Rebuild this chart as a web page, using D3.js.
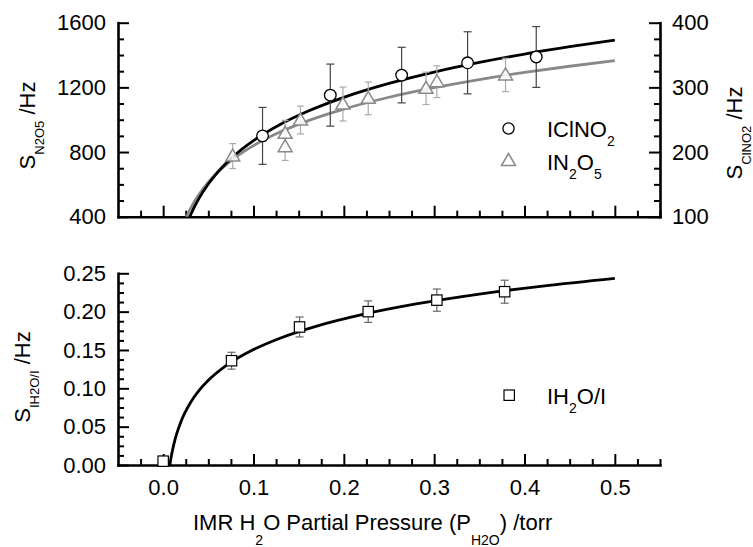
<!DOCTYPE html>
<html><head><meta charset="utf-8">
<script src="https://cdn.jsdelivr.net/npm/d3@7"></script>
<style>body{margin:0;background:#fff} text{font-family:"Liberation Sans",Arial,sans-serif;fill:#000}</style>
</head><body><svg id="c" width="753" height="547"></svg>
<script>
// ---- data ----
// IClNO2 (right axis, S_ClNO2 /Hz)
const clno2X = [0.110, 0.185, 0.264, 0.337, 0.413];
const clno2Y = [225, 288, 319, 338, 347];
const clno2Err = [44, 48, 43, 48, 47];
// IN2O5 (left axis, S_N2O5 /Hz)
const n2o5X = [0.077, 0.135, 0.135, 0.152, 0.199, 0.227, 0.291, 0.303, 0.379];
const n2o5Y = [775, 916, 833, 998, 1097, 1132, 1194, 1235, 1277];
const n2o5Err = [77, 80, 85, 86, 105, 101, 100, 98, 103];
// IH2O/I (bottom panel)
const h2oX = [0.0, 0.0757, 0.151, 0.227, 0.303, 0.378];
const h2oY = [0.005, 0.136, 0.180, 0.200, 0.215, 0.226];
const h2oErr = [0.004, 0.011, 0.013, 0.014, 0.0145, 0.015];
// fitted curves
const fitClno2X = [0.0296, 0.030, 0.031, 0.032, 0.035, 0.04, 0.05, 0.06, 0.08, 0.1, 0.13, 0.16, 0.2, 0.25, 0.3, 0.35, 0.4, 0.45, 0.5];
const fitClno2Y = [100, 101.3, 104.5, 107.5, 116.2, 129.1, 150.6, 168.3, 196.0, 217.6, 243.0, 263.0, 284.6, 306.1, 323.7, 338.6, 351.5, 362.9, 373.1];
const fitN2o5X = [0.026, 0.0265, 0.028, 0.031, 0.035, 0.04, 0.05, 0.06, 0.08, 0.1, 0.13, 0.16, 0.2, 0.25, 0.3, 0.35, 0.4, 0.45, 0.5];
const fitN2o5Y = [400, 406.2, 424.2, 457.4, 497.0, 540.6, 613.4, 672.9, 766.8, 839.7, 925.3, 993.1, 1065.9, 1138.8, 1198.3, 1248.6, 1292.2, 1330.6, 1365.0];
const fitH2oX = [0.0074, 0.0077, 0.008, 0.009, 0.01, 0.012, 0.015, 0.02, 0.03, 0.04, 0.05, 0.07, 0.1, 0.13, 0.17, 0.22, 0.28, 0.35, 0.42, 0.5];
const fitH2oY = [0, 0.0023, 0.0045, 0.0113, 0.0174, 0.0279, 0.0408, 0.0575, 0.0809, 0.0975, 0.1104, 0.1299, 0.1505, 0.1657, 0.1812, 0.1961, 0.2100, 0.2229, 0.2334, 0.2435];
// ticks
const xMajor = [0.0, 0.1, 0.2, 0.3, 0.4, 0.5];
const xMinor = [-0.025, 0.025, 0.05, 0.075, 0.125, 0.15, 0.175, 0.225, 0.25, 0.275, 0.325, 0.35, 0.375, 0.425, 0.45, 0.475, 0.525, 0.55];
const yLMajor = [400, 800, 1200, 1600];
const yLMinor = [500, 600, 700, 900, 1000, 1100, 1300, 1400, 1500];
const yRMajor = [100, 200, 300, 400];
const yRMinor = [125, 150, 175, 225, 250, 275, 325, 350, 375];
const yBMajor = [0, 0.05, 0.10, 0.15, 0.20, 0.25];
const yBMinor = [0.0125, 0.025, 0.0375, 0.0625, 0.075, 0.0875, 0.1125, 0.125, 0.1375, 0.1625, 0.175, 0.1875, 0.2125, 0.225, 0.2375];

const svg = d3.select("#c");
const x = d3.scaleLinear([-0.05, 0.55], [118, 660]);
const yL = d3.scaleLinear([400, 1600], [216.7, 22.7]);
const yR = d3.scaleLinear([100, 400], [216.7, 22.7]);
const yB = d3.scaleLinear([0, 0.25], [465, 273.3]);

function styleAxis(g, major) {
  g.selectAll(".tick line").attr("stroke", "#000").attr("stroke-width", 2);
  g.select(".domain").attr("stroke", "#000").attr("stroke-width", major ? 2.6 : 0).attr("stroke-linecap", "square");
  if (!major) g.select(".domain").remove();
  g.selectAll(".tick text").style("font-size", "22px").attr("fill", "#000").style("font-family", '"Liberation Sans",Arial,sans-serif');
}
function addAxis(axis, tr, major) {
  const g = svg.append("g").attr("transform", tr).call(axis);
  styleAxis(g, major);
  return g;
}
// top panel axes
addAxis(d3.axisBottom(x).tickValues(xMinor).tickSize(-6).tickSizeOuter(0).tickFormat(""), "translate(0,216.7)", false);
addAxis(d3.axisBottom(x).tickValues(xMajor).tickSize(-11).tickSizeOuter(0).tickFormat(""), "translate(0,216.7)", true);
addAxis(d3.axisLeft(yL).tickValues(yLMinor).tickSize(-6).tickSizeOuter(0).tickFormat(""), "translate(118,0)", false);
addAxis(d3.axisLeft(yL).tickValues(yLMajor).tickSize(-11).tickSizeOuter(0).tickPadding(12).tickFormat(d3.format("d")), "translate(118,0)", true);
addAxis(d3.axisRight(yR).tickValues(yRMinor).tickSize(-6).tickSizeOuter(0).tickFormat(""), "translate(660,0)", false);
addAxis(d3.axisRight(yR).tickValues(yRMajor).tickSize(-11).tickSizeOuter(0).tickPadding(12).tickFormat(d3.format("d")), "translate(660,0)", true);
// bottom panel axes
addAxis(d3.axisBottom(x).tickValues(xMinor).tickSize(-6).tickSizeOuter(0).tickFormat(""), "translate(0,465)", false);
addAxis(d3.axisBottom(x).tickValues(xMajor).tickSize(-11).tickSizeOuter(0).tickPadding(14).tickFormat(d3.format(".1f")), "translate(0,465)", true);
addAxis(d3.axisLeft(yB).tickValues(yBMinor).tickSize(-6).tickSizeOuter(0).tickFormat(""), "translate(118,0)", false);
addAxis(d3.axisLeft(yB).tickValues(yBMajor).tickSize(-11).tickSizeOuter(0).tickPadding(12).tickFormat(d3.format(".2f")), "translate(118,0)", true);

// fit curves
const lineR = d3.line().x(d => x(d[0])).y(d => yR(d[1])).curve(d3.curveMonotoneX);
const lineL = d3.line().x(d => x(d[0])).y(d => yL(d[1])).curve(d3.curveMonotoneX);
const lineB = d3.line().x(d => x(d[0])).y(d => yB(d[1])).curve(d3.curveMonotoneX);
svg.append("path").attr("d", lineL(d3.zip(fitN2o5X, fitN2o5Y))).attr("fill", "none").attr("stroke", "#888").attr("stroke-width", 2.8);
svg.append("path").attr("d", lineR(d3.zip(fitClno2X, fitClno2Y))).attr("fill", "none").attr("stroke", "#000").attr("stroke-width", 2.8);
svg.append("path").attr("d", lineB(d3.zip(fitH2oX, fitH2oY))).attr("fill", "none").attr("stroke", "#000").attr("stroke-width", 2.8);

function errBars(xs, ys, es, ys_scale, color, cap) {
  const g = svg.append("g").attr("stroke", color).attr("stroke-width", 1.2).attr("fill", "none");
  xs.forEach((xv, i) => {
    const cx = x(xv), y1 = ys_scale(ys[i] - es[i]), y2 = ys_scale(ys[i] + es[i]);
    g.append("line").attr("x1", cx).attr("x2", cx).attr("y1", y1).attr("y2", y2);
    g.append("line").attr("x1", cx - cap / 2).attr("x2", cx + cap / 2).attr("y1", y1).attr("y2", y1);
    g.append("line").attr("x1", cx - cap / 2).attr("x2", cx + cap / 2).attr("y1", y2).attr("y2", y2);
  });
}
const triPath = "M0,-7L7,5L-7,5Z";

// IN2O5 triangles
errBars(n2o5X, n2o5Y, n2o5Err, yL, "#aaa", 7);
svg.append("g").selectAll("path").data(d3.zip(n2o5X, n2o5Y)).join("path")
  .attr("d", triPath).attr("transform", d => `translate(${x(d[0])},${yL(d[1])})`)
  .attr("fill", "#fff").attr("fill-opacity", 0.85).attr("stroke", "#8a8a8a").attr("stroke-width", 1.5);
// IClNO2 circles
errBars(clno2X, clno2Y, clno2Err, yR, "#444", 8);
svg.append("g").selectAll("circle").data(d3.zip(clno2X, clno2Y)).join("circle")
  .attr("cx", d => x(d[0])).attr("cy", d => yR(d[1])).attr("r", 5.8)
  .attr("fill", "#fff").attr("stroke", "#000").attr("stroke-width", 1.3);
// IH2O/I squares
errBars(h2oX, h2oY, h2oErr, yB, "#666", 8);
svg.append("g").selectAll("rect").data(d3.zip(h2oX, h2oY)).join("rect")
  .attr("x", d => x(d[0]) - 5.2).attr("y", d => yB(d[1]) - 5.2).attr("width", 10.4).attr("height", 10.4)
  .attr("fill", "#fff").attr("stroke", "#000").attr("stroke-width", 1.2);

// legends
svg.append("circle").attr("cx", 508.5).attr("cy", 128.5).attr("r", 5.6).attr("fill", "#fff").attr("stroke", "#000").attr("stroke-width", 1.3);
svg.append("path").attr("d", triPath).attr("transform", "translate(508.5,160.5)").attr("fill", "none").attr("stroke", "#8a8a8a").attr("stroke-width", 1.5);
svg.append("rect").attr("x", 504).attr("y", 390).attr("width", 10.4).attr("height", 10.4).attr("fill", "#fff").attr("stroke", "#000").attr("stroke-width", 1.2);

function richText(parent, x0, y0, parts, size, subSize, subDy, anchor, rotate) {
  const t = parent.append("text").attr("x", x0).attr("y", y0).style("font-size", size + "px").attr("text-anchor", anchor || "start");
  if (rotate) t.attr("transform", `rotate(${rotate},${x0},${y0})`);
  let cur = 0;
  parts.forEach(p => {
    const isSub = p.startsWith("_");
    const s = isSub ? p.slice(1) : p;
    const want = isSub ? subDy : 0;
    t.append("tspan").attr("dy", want - cur).style("font-size", (isSub ? subSize : size) + "px").text(s);
    cur = want;
  });
  return t;
}
richText(svg, 547, 137, ["IClNO", "_2"], 22, 14, 9);
richText(svg, 547, 170, ["IN", "_2", "O", "_5"], 22, 14, 9);
richText(svg, 547, 403.5, ["IH", "_2", "O/I"], 22, 14, 9);

// axis titles
richText(svg, 35, 125.5, ["S", "_N2O5", " /Hz"], 22, 13, 8.5, "middle", -90);
richText(svg, 742, 133, ["S", "_ClNO2", " /Hz"], 22, 13, 8.5, "middle", -90);
richText(svg, 30, 377, ["S", "_IH2O/I", " /Hz"], 22, 13, 8.5, "middle", -90);
richText(svg, 193, 530, ["IMR H", "_2", "O Partial Pressure (P", "_H2O", ") /torr"], 22, 14, 15, "start");
</script></body></html>
